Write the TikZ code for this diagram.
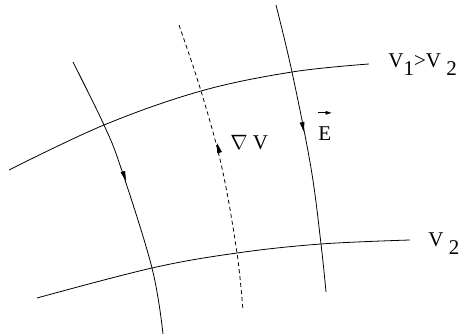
\documentclass[tikz,border=0pt]{standalone}
\usepackage{fontspec}
\setmainfont{Liberation Serif}
\usetikzlibrary{arrows.meta}
\tikzset{
  fieldtip/.style={-{Triangle[length=10pt,width=4.6pt]},line width=0.8pt},
  lbl/.style={anchor=base west,inner sep=0pt,font=\fontsize{21}{24}\selectfont}
}
\newcommand{\lowered}[1]{\raisebox{-8pt}{#1}}
\begin{document}
\begin{tikzpicture}[x=1pt,y=-1pt,line width=0.8pt]
  \useasboundingbox (0,0) rectangle (461,336);
  \draw plot[smooth,tension=0.6] coordinates {(9,170) (104,125) (201,91) (292,72) (369,64)};
  \draw plot[smooth,tension=0.6] coordinates {(37,298) (152,268) (237,253) (321,244) (410,240)};
  \draw plot[smooth,tension=0.6] coordinates {(73,62) (104,125) (121,168) (152,268) (163,334)};
  \draw[dash pattern=on 4pt off 3pt] plot[smooth,tension=0.6] coordinates {(179,25) (201,91) (222,168) (237,253) (243,311)};
  \draw plot[smooth,tension=0.6] coordinates {(276,5) (292,72) (311,168) (321,244) (326,292)};
  \draw[fieldtip] (122.8,171.5) -- (126,181);
  \draw[fieldtip] (219.7,153) -- (217,143);
  \draw[fieldtip] (302,122.2) -- (304,132);
  \node[lbl] (vone) at (388,68) {V\lowered{1}>V \lowered{2}};
  \node[lbl] (vtwo) at (428,247) {V \lowered{2}};
  \node[lbl] (grad) at (230,150) {$\nabla$ V};
  \node[lbl] (efield) at (318,141) {E};
  \draw[-{Triangle[length=6pt,width=3.5pt]},line width=0.7pt] ([yshift=14pt]efield.north west) -- ([yshift=14pt]efield.north east);
\end{tikzpicture}
\end{document}
